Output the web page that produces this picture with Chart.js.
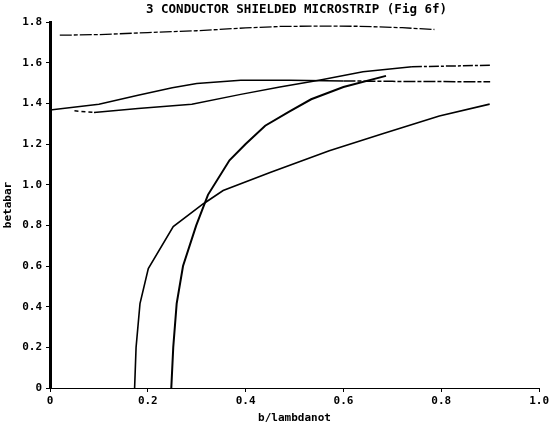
<!DOCTYPE html>
<html>
<head>
<meta charset="utf-8">
<script src="https://cdn.jsdelivr.net/npm/chart.js@4.4.1/dist/chart.umd.min.js"></script>
<style>
  html, body { margin: 0; padding: 0; background: #fff; }
  canvas { display: block; }
</style>
</head>
<body>
<canvas id="plot" width="552" height="427"></canvas>
<script>
// b/lambda0 sweep for each mode, with normalised beta read per point
const modeAx = [0.02, 0.1, 0.2, 0.3, 0.4, 0.47, 0.55, 0.63, 0.72, 0.786];
const modeAy = [1.735, 1.738, 1.748, 1.757, 1.771, 1.778, 1.78, 1.779, 1.772, 1.763];

const modeBx = [0, 0.1, 0.18, 0.25, 0.3, 0.39, 0.49, 0.6, 0.7, 0.8, 0.9];
const modeBy = [1.367, 1.395, 1.44, 1.477, 1.497, 1.513, 1.513, 1.51, 1.508, 1.507, 1.506];

const modeCx = [0.05, 0.09, 0.18, 0.29, 0.39, 0.47, 0.55, 0.64, 0.74, 0.9];
const modeCy = [1.363, 1.355, 1.375, 1.395, 1.444, 1.48, 1.513, 1.555, 1.58, 1.587];

const modeDx = [0.173, 0.176, 0.184, 0.201, 0.252, 0.313, 0.354, 0.45, 0.571, 0.68, 0.796, 0.899];
const modeDy = [0, 0.2, 0.415, 0.587, 0.794, 0.905, 0.971, 1.06, 1.167, 1.25, 1.338, 1.396];

const modeEx = [0.248, 0.252, 0.259, 0.272, 0.299, 0.323, 0.367, 0.4, 0.44, 0.49, 0.534, 0.6, 0.687];
const modeEy = [0, 0.2, 0.415, 0.6, 0.8, 0.95, 1.12, 1.2, 1.29, 1.36, 1.42, 1.48, 1.535];

const xTicks = [0, 0.2, 0.4, 0.6, 0.8, 1.0];
const yTicks = [0, 0.2, 0.4, 0.6, 0.8, 1.0, 1.2, 1.4, 1.6, 1.8];

const MONO = '"DejaVu Sans Mono", "Liberation Mono", monospace';

function pts(xs, ys) {
  return xs.map((x, i) => ({ x: x, y: ys[i] }));
}

function tickText(v) {
  return Math.abs(v) < 1e-9 ? '0' : v.toFixed(1);
}

// plot heading, centred over the plotting area
const heading = {
  id: 'heading',
  afterDraw(chart) {
    const { ctx, chartArea } = chart;
    ctx.save();
    ctx.fillStyle = '#000';
    ctx.font = 'bold 12.5px ' + MONO;
    ctx.textAlign = 'center';
    ctx.textBaseline = 'middle';
    ctx.fillText('3 CONDUCTOR SHIELDED MICROSTRIP (Fig 6f)', (chartArea.left + chartArea.right) / 2 + 2, 10);
    ctx.restore();
  }
};

const tailDash = (fromX, dash) => ({
  borderDash: ctx => ctx.p0.parsed.x >= fromX ? dash : undefined
});

new Chart(document.getElementById('plot'), {
  type: 'line',
  data: {
    datasets: [
      {
        data: pts(modeAx, modeAy),
        borderColor: '#000', borderWidth: 1.3,
        borderDash: [12, 2, 4, 2]
      },
      {
        data: pts(modeBx, modeBy),
        borderColor: '#000', borderWidth: 1.5,
        segment: tailDash(0.6, [12, 2, 4, 2])
      },
      {
        data: pts(modeCx, modeCy),
        borderColor: '#000', borderWidth: 1.5,
        segment: {
          borderDash: ctx => (ctx.p0DataIndex === 0) ? [4, 3] :
            (ctx.p0.parsed.x >= 0.7 ? [10, 2, 3, 2] : undefined)
        }
      },
      {
        data: pts(modeDx, modeDy),
        borderColor: '#000', borderWidth: 1.6
      },
      {
        data: pts(modeEx, modeEy),
        borderColor: '#000', borderWidth: 2
      }
    ]
  },
  options: {
    responsive: false,
    animation: false,
    elements: { point: { radius: 0 }, line: { tension: 0 } },
    layout: { padding: { top: 22, right: 12, left: 0, bottom: 0 } },
    plugins: {
      legend: { display: false },
      tooltip: { enabled: false }
    },
    scales: {
      x: {
        type: 'linear',
        min: 0, max: 1.0,
        afterFit: s => { s.height = 39; },
        afterBuildTicks: s => { s.ticks = xTicks.map(v => ({ value: v })); },
        ticks: {
          callback: tickText,
          color: '#000',
          padding: 3,
          maxRotation: 0,
          font: { family: MONO, size: 11, weight: 'bold' }
        },
        grid: { drawOnChartArea: false, drawTicks: true, tickLength: 4, color: '#000' },
        border: { display: true, color: '#000', width: 1, dash: [10, 2, 4, 2] },
        title: {
          display: true,
          text: 'b/lambdanot',
          color: '#000',
          padding: { top: 0, bottom: 2 },
          font: { family: MONO, size: 11, weight: 'bold' }
        }
      },
      y: {
        min: 0, max: 1.8,
        afterFit: s => { s.width = 50; },
        afterBuildTicks: s => { s.ticks = yTicks.map(v => ({ value: v })); },
        ticks: {
          callback: tickText,
          color: '#000',
          padding: 4,
          font: { family: MONO, size: 11, weight: 'bold' }
        },
        grid: { drawOnChartArea: false, drawTicks: true, tickLength: 4, color: '#000' },
        border: { display: true, color: '#000', width: 3 },
        title: {
          display: true,
          text: 'betabar',
          color: '#000',
          padding: { top: 2, bottom: 0 },
          font: { family: MONO, size: 11, weight: 'bold' }
        }
      }
    }
  },
  plugins: [heading]
});
</script>
</body>
</html>
